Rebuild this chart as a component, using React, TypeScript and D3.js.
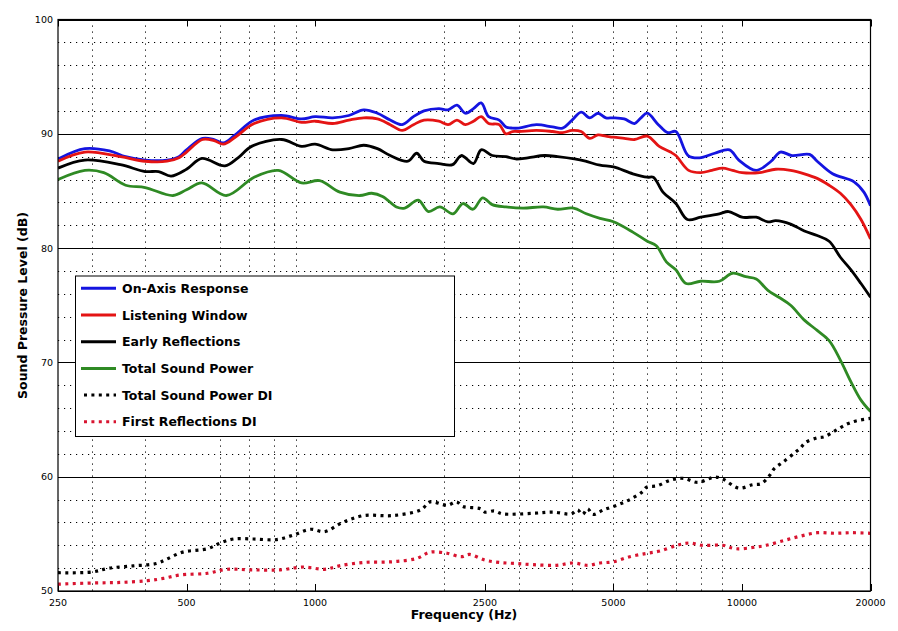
import * as d3 from "d3"

// [frequency Hz, level dB]
const onAxis: [number, number][] = [
  [250, 87.8], [289, 88.7], [330, 88.5], [360, 88.0], [400, 87.7], [450, 87.7], [480, 88.0], [500, 88.6],
  [545, 89.6], [580, 89.5], [610, 89.2], [650, 89.9], [720, 91.2], [835, 91.6], [930, 91.3], [1000, 91.5],
  [1100, 91.4], [1200, 91.6], [1300, 92.1], [1400, 91.8], [1500, 91.2], [1600, 90.8], [1700, 91.5],
  [1800, 92.0], [1950, 92.2], [2050, 92.1], [2150, 92.5], [2250, 91.8], [2350, 92.2], [2450, 92.7],
  [2550, 91.5], [2700, 91.2], [2800, 90.6], [2900, 90.5], [3000, 90.5], [3300, 90.8], [3600, 90.6],
  [3800, 90.5], [4000, 91.2], [4200, 91.9], [4400, 91.4], [4600, 91.8], [4800, 91.4], [5000, 91.4],
  [5300, 91.3], [5600, 90.9], [5800, 91.4], [6000, 91.8], [6370, 90.8], [6700, 90.1], [7000, 90.2],
  [7480, 88.1], [7950, 87.9], [8630, 88.3], [9350, 88.6], [9830, 87.7], [10800, 86.8], [11700, 87.6],
  [12300, 88.4], [13100, 88.1], [14400, 88.2], [15000, 87.6], [16300, 86.5], [18300, 85.8], [19300, 84.9],
  [20000, 83.7],
]

const listeningWindow: [number, number][] = [
  [250, 87.6], [289, 88.4], [350, 88.0], [400, 87.6], [450, 87.6], [480, 87.9], [500, 88.4], [545, 89.5],
  [580, 89.4], [610, 89.1], [650, 89.7], [720, 90.9], [835, 91.4], [930, 91.0], [1000, 91.1], [1100, 90.9],
  [1200, 91.2], [1300, 91.4], [1400, 91.3], [1500, 90.8], [1600, 90.3], [1700, 90.8], [1800, 91.2],
  [1950, 91.1], [2050, 90.8], [2150, 91.2], [2250, 90.8], [2350, 91.1], [2450, 91.5], [2550, 90.9],
  [2700, 90.8], [2800, 90.0], [2900, 90.2], [3000, 90.2], [3300, 90.3], [3600, 90.2], [3800, 90.1],
  [4000, 90.3], [4200, 90.2], [4400, 89.6], [4600, 89.9], [4800, 89.8], [5000, 89.7], [5300, 89.6],
  [5600, 89.5], [6000, 89.8], [6400, 88.9], [6800, 88.4], [7000, 88.1], [7500, 86.8], [8000, 86.6],
  [8500, 86.8], [9000, 87.0], [9500, 86.8], [10000, 86.6], [11000, 86.6], [12000, 86.9], [13000, 86.8],
  [14000, 86.5], [15000, 86.1], [16000, 85.5], [17000, 84.8], [18000, 83.8], [19000, 82.5], [20000, 80.8],
]

const earlyReflections: [number, number][] = [
  [250, 87.0], [289, 87.7], [350, 87.3], [400, 86.7], [430, 86.7], [460, 86.3], [500, 86.9], [543, 87.85],
  [615, 87.2], [660, 87.9], [710, 88.9], [835, 89.5], [930, 88.9], [1000, 89.1], [1100, 88.6], [1200, 88.7],
  [1300, 89.0], [1400, 88.7], [1500, 88.1], [1650, 87.6], [1730, 88.3], [1800, 87.6], [1950, 87.4],
  [2100, 87.3], [2200, 88.1], [2350, 87.4], [2450, 88.6], [2600, 88.1], [2800, 88.0], [2950, 87.8],
  [3150, 87.9], [3450, 88.1], [3700, 88.0], [4050, 87.8], [4300, 87.6], [4650, 87.25], [5000, 87.1],
  [5550, 86.5], [6000, 86.2], [6200, 86.2], [6530, 84.9], [7000, 83.9], [7450, 82.5], [8000, 82.7],
  [8850, 83.0], [9300, 83.2], [10000, 82.7], [10800, 82.7], [11500, 82.3], [12000, 82.4], [13000, 82.1],
  [14000, 81.5], [15000, 81.1], [16000, 80.6], [17000, 79.2], [18000, 78.1], [19000, 76.9], [20000, 75.7],
]

const soundPower: [number, number][] = [
  [250, 86.0], [289, 86.8], [320, 86.6], [360, 85.5], [400, 85.3], [465, 84.6], [500, 85.1], [543, 85.7],
  [620, 84.6], [720, 86.2], [820, 86.8], [930, 85.7], [1025, 85.9], [1143, 84.9], [1273, 84.6],
  [1357, 84.8], [1443, 84.5], [1551, 83.6], [1622, 83.5], [1745, 84.2], [1843, 83.2], [1960, 83.6],
  [2105, 83.0], [2220, 83.9], [2345, 83.4], [2470, 84.4], [2600, 83.8], [2800, 83.6], [3070, 83.5],
  [3425, 83.6], [3700, 83.4], [4030, 83.5], [4320, 83.0], [4650, 82.6], [5000, 82.3], [5550, 81.4],
  [6000, 80.6], [6300, 80.2], [6650, 78.8], [7000, 78.1], [7400, 76.9], [8000, 77.1], [8850, 77.1],
  [9500, 77.8], [10200, 77.5], [10800, 77.3], [11500, 76.3], [12200, 75.7], [13000, 75.0], [14000, 73.7],
  [15000, 72.8], [16000, 71.9], [17000, 70.2], [18000, 68.3], [19000, 66.7], [20000, 65.7],
]

const soundPowerDI: [number, number][] = [
  [250, 51.6], [300, 51.66], [330, 52.0], [375, 52.2], [425, 52.4], [450, 52.8], [490, 53.4], [560, 53.7],
  [600, 54.2], [645, 54.55], [717, 54.55], [813, 54.5], [890, 54.9], [975, 55.4], [1053, 55.2],
  [1160, 56.0], [1300, 56.6], [1520, 56.6], [1770, 57.1], [1860, 57.8], [2040, 57.5], [2145, 57.8],
  [2220, 57.4], [2440, 57.2], [2500, 56.9], [2630, 57.0], [2750, 56.75], [3250, 56.8], [3610, 56.9],
  [3980, 56.75], [4120, 57.1], [4230, 56.7], [4350, 57.2], [4470, 56.7], [4740, 57.1], [5090, 57.5],
  [5460, 58.0], [5830, 58.65], [5990, 59.1], [6320, 59.2], [6800, 59.7], [7290, 59.86], [7880, 59.5],
  [8620, 59.97], [9010, 59.8], [9830, 59.0], [10600, 59.3], [11100, 59.4], [11600, 60.1], [11900, 60.7],
  [12500, 61.3], [13300, 62.1], [13700, 62.5], [14100, 63.0], [15000, 63.4], [15600, 63.5], [16500, 64.0],
  [17600, 64.6], [18600, 64.9], [20000, 65.1],
]

const firstReflectionsDI: [number, number][] = [
  [250, 50.6], [300, 50.7], [350, 50.75], [405, 50.9], [441, 51.1], [483, 51.4], [560, 51.55], [620, 51.9],
  [705, 51.85], [830, 51.85], [940, 52.1], [1053, 51.9], [1140, 52.2], [1300, 52.5], [1520, 52.56],
  [1730, 52.85], [1860, 53.4], [2040, 53.3], [2200, 53.0], [2300, 53.2], [2500, 52.7], [2700, 52.5],
  [2960, 52.4], [3250, 52.3], [3680, 52.25], [4030, 52.45], [4350, 52.25], [4650, 52.45], [5000, 52.56],
  [5460, 53.0], [5990, 53.3], [6430, 53.5], [7040, 54.0], [7530, 54.2], [8050, 54.0], [9010, 54.0],
  [9660, 53.7], [10800, 53.85], [11400, 54.0], [12500, 54.4], [13700, 54.8], [15000, 55.1], [16500, 55.05],
  [18100, 55.1], [20000, 55.05],
]

const xTickLabels = [250, 500, 1000, 2500, 5000, 10000, 20000]
const xGridFreqs = [300, 400, 600, 700, 800, 900, 2000, 3000, 4000, 5000, 6000, 7000, 8000, 9000]
const yTickLabels = [50, 60, 70, 80, 90, 100]
const yMinorLevels = [52, 54, 56, 58, 62, 64, 66, 68, 72, 74, 76, 78, 82, 84, 86, 88, 92, 94, 96, 98]

const series = [
  { name: "On-Axis Response", data: onAxis, color: "#1414e0", dotted: false },
  { name: "Listening Window", data: listeningWindow, color: "#e41414", dotted: false },
  { name: "Early Reflections", data: earlyReflections, color: "#000000", dotted: false },
  { name: "Total Sound Power", data: soundPower, color: "#2f8a24", dotted: false },
  { name: "Total Sound Power DI", data: soundPowerDI, color: "#000000", dotted: true },
  { name: "First Reflections DI", data: firstReflectionsDI, color: "#d81430", dotted: true },
]

const W = 898
const H = 631
const left = 58
const right = 870.5
const top = 19.5
const bottom = 591

export default function App() {
  const x = d3.scaleLog().domain([250, 20000]).range([left, right])
  const y = d3.scaleLinear().domain([50, 100]).range([bottom, top])
  const line = d3
    .line<[number, number]>()
    .x((d) => x(d[0]))
    .y((d) => y(d[1]))
    .curve(d3.curveCatmullRom.alpha(0.5))

  const legX = 75.5
  const legY = 276
  const rowH = 26.7

  return (
    <svg
      width={W}
      height={H}
      style={{ position: "absolute", left: 0, top: 0, background: "#fff" }}
      fontFamily="DejaVu Sans, sans-serif"
    >
      <defs>
        <clipPath id="plot">
          <rect x={left} y={top} width={right - left} height={bottom - top} />
        </clipPath>
      </defs>
      <rect width={W} height={H} fill="#fff" />

      {/* grid */}
      <g stroke="#000" strokeWidth={1}>
        {xGridFreqs.map((f) => (
          <line key={f} x1={Math.round(x(f)) + 0.5} x2={Math.round(x(f)) + 0.5} y1={top} y2={bottom} strokeDasharray="1.2 4.8" />
        ))}
        {yMinorLevels.map((v) => (
          <line key={v} x1={left} x2={right} y1={Math.round(y(v)) + 0.5} y2={Math.round(y(v)) + 0.5} strokeDasharray="1.2 4.8" />
        ))}
        {yTickLabels.map((v) => (
          <line key={v} x1={left} x2={right} y1={Math.round(y(v)) + 0.5} y2={Math.round(y(v)) + 0.5} />
        ))}
        {xTickLabels.map((f) => (
          <g key={f}>
            <line x1={Math.round(x(f)) + 0.5} x2={Math.round(x(f)) + 0.5} y1={bottom} y2={bottom - 7} />
            <line x1={Math.round(x(f)) + 0.5} x2={Math.round(x(f)) + 0.5} y1={top} y2={top + 7} />
          </g>
        ))}
      </g>

      {/* curves */}
      <g clipPath="url(#plot)" fill="none" strokeLinejoin="round">
        {series.map((s) => (
          <path
            key={s.name}
            d={line(s.data) ?? ""}
            stroke={s.color}
            strokeWidth={s.dotted ? 3.2 : 2.8}
            strokeDasharray={s.dotted ? "3 4.4" : undefined}
          />
        ))}
      </g>

      <rect x={left} y={top} width={right - left} height={bottom - top} fill="none" stroke="#000" strokeWidth={1.2} />

      {/* tick labels */}
      <g fontSize={9.5} fill="#000">
        {yTickLabels.map((v) => (
          <text key={v} x={53} y={y(v) + 3.4} textAnchor="end">
            {v}
          </text>
        ))}
        {xTickLabels.map((f) => (
          <text key={f} x={x(f)} y={606} textAnchor="middle">
            {f}
          </text>
        ))}
      </g>

      <text x={464} y={619} textAnchor="middle" fontSize={12.5} fontWeight="bold">
        Frequency (Hz)
      </text>
      <text transform="translate(27,305.5) rotate(-90)" textAnchor="middle" fontSize={12.5} fontWeight="bold">
        Sound Pressure Level (dB)
      </text>

      {/* legend */}
      <rect x={legX} y={legY} width={379} height={160.5} fill="#fff" stroke="#000" strokeWidth={1} />
      {series.map((s, i) => {
        const cy = legY + 12.3 + i * rowH
        return (
          <g key={s.name}>
            <line
              x1={s.dotted ? 84 : 81}
              x2={116}
              y1={cy}
              y2={cy}
              stroke={s.color}
              strokeWidth={3}
              strokeDasharray={s.dotted ? "3 4.4" : undefined}
            />
            <text x={122} y={cy + 4.5} fontSize={12.5} fontWeight="bold">
              {s.name}
            </text>
          </g>
        )
      })}
    </svg>
  )
}
